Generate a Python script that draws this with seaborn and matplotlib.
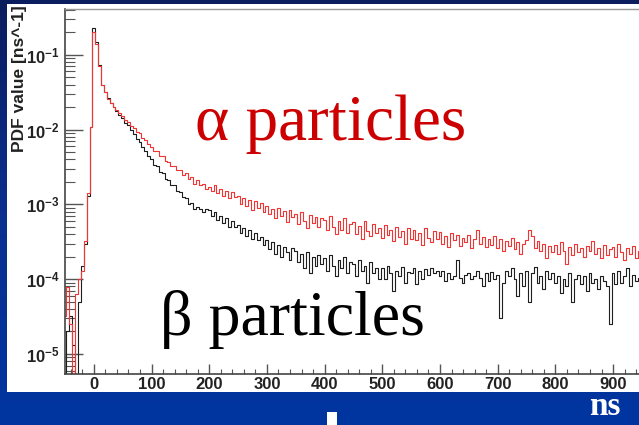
import numpy as np
import pandas as pd
import matplotlib
matplotlib.use("Agg")
import matplotlib.pyplot as plt
import seaborn as sns
from matplotlib.ticker import LogLocator, MultipleLocator, NullFormatter, LogFormatterMathtext
from matplotlib.colors import LinearSegmentedColormap
from matplotlib.patches import Rectangle

# ---------------- data (bin centres in ns, PDF values in ns^-1) ----------------
time_ns = np.arange(-50, 950, 5)

alpha_pdf = [
    3.2e-5, 7.9e-5, 2.5e-5, 2.5e-6, 6.3e-5, 1.0e-4, 1.3e-4, 3.2e-4, 1.4e-3, 1.1e-2,          # -50..-5
    0.20, 0.14, 0.071, 0.040, 0.032, 0.026, 0.0224, 0.020, 0.0182, 0.0166,                  # 0..45
    0.0152, 0.0136, 0.0128, 0.0113, 0.0106, 0.0094, 0.0090, 0.0078, 0.0072, 0.0064,         # 50..95
    5.9e-3, 5.2e-3, 5.1e-3, 4.5e-3, 4.4e-3, 3.8e-3, 3.7e-3, 3.3e-3, 3.3e-3, 2.9e-3,         # 100..145
    2.9e-3, 2.5e-3, 2.6e-3, 2.2e-3, 2.3e-3, 1.9e-3, 2.1e-3, 1.8e-3, 1.9e-3, 1.6e-3,         # 150..195
    1.7e-3, 1.5e-3, 1.8e-3, 1.4e-3, 1.6e-3, 1.3e-3, 1.5e-3, 1.2e-3, 1.45e-3, 1.25e-3,       # 200..245
    1.3e-3, 1.0e-3, 1.2e-3, 9.5e-4, 1.15e-3, 8.5e-4, 1.1e-3, 9.0e-4, 1.05e-3, 8.0e-4,       # 250..295
    9.5e-4, 7.5e-4, 8.8e-4, 6.5e-4, 9.0e-4, 7.0e-4, 8.2e-4, 5.8e-4, 8.5e-4, 6.8e-4,         # 300..345
    7.5e-4, 5.5e-4, 7.8e-4, 6.0e-4, 4.8e-4, 7.2e-4, 5.6e-4, 6.8e-4, 5.0e-4, 6.5e-4,         # 350..395
    6.2e-4, 4.5e-4, 7.0e-4, 5.0e-4, 4.0e-4, 6.0e-4, 4.6e-4, 6.6e-4, 4.2e-4, 5.4e-4,         # 400..445
    5.8e-4, 4.0e-4, 5.2e-4, 3.5e-4, 6.0e-4, 4.4e-4, 3.8e-4, 5.5e-4, 4.1e-4, 4.9e-4,         # 450..495
    3.6e-4, 5.3e-4, 3.9e-4, 4.6e-4, 3.2e-4, 5.0e-4, 3.7e-4, 4.4e-4, 3.0e-4, 4.8e-4,         # 500..545
    3.5e-4, 4.6e-4, 3.3e-4, 4.2e-4, 2.9e-4, 4.9e-4, 3.6e-4, 3.1e-4, 4.4e-4, 3.4e-4,         # 550..595
    4.3e-4, 3.0e-4, 3.8e-4, 2.7e-4, 4.1e-4, 3.3e-4, 3.9e-4, 2.8e-4, 3.6e-4, 3.1e-4,         # 600..645
    3.9e-4, 2.6e-4, 3.5e-4, 4.6e-4, 3.0e-4, 3.7e-4, 2.7e-4, 3.4e-4, 2.9e-4, 3.8e-4,         # 650..695
    2.6e-4, 3.4e-4, 2.4e-4, 3.2e-4, 2.8e-4, 3.6e-4, 2.5e-4, 3.1e-4, 2.2e-4, 3.0e-4,         # 700..745
    3.3e-4, 4.5e-4, 3.8e-4, 2.6e-4, 3.2e-4, 2.4e-4, 3.0e-4, 1.9e-4, 2.8e-4, 2.3e-4,         # 750..795
    2.9e-4, 2.2e-4, 3.1e-4, 2.4e-4, 1.6e-4, 2.7e-4, 2.1e-4, 3.0e-4, 2.3e-4, 2.6e-4,         # 800..845
    2.0e-4, 2.8e-4, 2.4e-4, 3.2e-4, 2.2e-4, 2.6e-4, 1.9e-4, 2.9e-4, 2.1e-4, 2.5e-4,         # 850..895
    2.7e-4, 2.0e-4, 3.0e-4, 2.3e-4, 1.8e-4, 2.6e-4, 2.2e-4, 2.8e-4, 1.9e-4, 2.4e-4,         # 900..945
]

beta_pdf = [
    1.0e-6, 2.0e-5, 3.2e-5, 1.3e-5, 1.0e-6, 5.0e-5, 1.5e-4, 3.0e-4, 1.3e-3, 1.1e-2,          # -50..-5
    0.23, 0.15, 0.072, 0.040, 0.0316, 0.0263, 0.0224, 0.020, 0.0178, 0.0158,                # 0..45
    0.0143, 0.0124, 0.0114, 0.0098, 0.0088, 0.0076, 0.0069, 0.0058, 0.0052, 0.0044,         # 50..95
    4.1e-3, 3.4e-3, 3.3e-3, 2.7e-3, 2.6e-3, 2.2e-3, 2.15e-3, 1.8e-3, 1.8e-3, 1.5e-3,        # 100..145
    1.45e-3, 1.25e-3, 1.2e-3, 1.0e-3, 1.05e-3, 8.6e-4, 9.2e-4, 8.8e-4, 7.8e-4, 8.6e-4,      # 150..195
    8.4e-4, 7.0e-4, 7.8e-4, 6.2e-4, 7.0e-4, 5.6e-4, 6.5e-4, 5.0e-4, 6.0e-4, 5.0e-4,         # 200..245
    5.3e-4, 4.2e-4, 4.8e-4, 3.8e-4, 4.5e-4, 3.4e-4, 4.1e-4, 3.3e-4, 3.7e-4, 2.9e-4,         # 250..295
    3.3e-4, 2.5e-4, 3.1e-4, 2.2e-4, 2.9e-4, 2.0e-4, 2.7e-4, 2.3e-4, 1.8e-4, 2.6e-4,         # 300..345
    2.4e-4, 1.7e-4, 2.2e-4, 1.4e-4, 2.3e-4, 1.2e-4, 2.0e-4, 1.5e-4, 2.1e-4, 1.6e-4,         # 350..395
    1.9e-4, 1.3e-4, 2.1e-4, 1.5e-4, 1.1e-4, 1.8e-4, 1.4e-4, 2.0e-4, 1.2e-4, 1.7e-4,         # 400..445
    1.6e-4, 1.1e-4, 1.8e-4, 1.3e-4, 1.5e-4, 9.0e-5, 1.7e-4, 1.2e-4, 1.4e-4, 1.0e-4,         # 450..495
    1.4e-4, 1.0e-4, 1.5e-4, 1.2e-4, 7.0e-5, 1.3e-4, 1.1e-4, 1.45e-4, 9.0e-5, 1.25e-4,       # 500..545
    1.2e-4, 1.4e-4, 8.5e-5, 1.3e-4, 1.0e-4, 1.35e-4, 1.15e-4, 1.4e-4, 1.2e-4, 1.3e-4,       # 550..595
    1.1e-4, 1.3e-4, 9.5e-5, 1.2e-4, 1.0e-4, 1.1e-4, 1.8e-4, 1.05e-4, 9.0e-5, 1.15e-4,       # 600..645
    1.2e-4, 1.0e-4, 1.1e-4, 1.3e-4, 1.05e-4, 8.0e-5, 1.2e-4, 9.5e-5, 1.25e-4, 1.0e-4,       # 650..695
    1.15e-4, 3.0e-5, 9.0e-5, 1.3e-4, 1.1e-4, 1.4e-4, 1.0e-4, 6.0e-5, 1.2e-4, 8.0e-5,        # 700..745
    1.3e-4, 5.0e-5, 1.2e-4, 1.45e-4, 9.0e-5, 1.1e-4, 7.5e-5, 1.3e-4, 1.0e-4, 1.2e-4,        # 750..795
    9.0e-5, 1.1e-4, 6.5e-5, 1.0e-4, 8.0e-5, 1.2e-4, 5.0e-5, 1.0e-4, 1.15e-4, 8.5e-5,        # 800..845
    1.1e-4, 7.0e-5, 1.2e-4, 9.0e-5, 1.0e-4, 7.5e-5, 1.1e-4, 9.5e-5, 8.0e-5, 2.5e-5,         # 850..895
    1.2e-4, 8.5e-5, 1.3e-4, 9.0e-5, 1.1e-4, 1.4e-4, 8.0e-5, 1.15e-4, 9.5e-5, 1.05e-4,       # 900..945
]

alpha_label = "α particles"
beta_label = "β particles"
y_label = "PDF value [ns^-1]"
unit_label = "ns"

df = pd.DataFrame({"t": np.concatenate([time_ns, time_ns]),
                   "pdf": np.concatenate([beta_pdf, alpha_pdf]),
                   "kind": ["beta"] * len(time_ns) + ["alpha"] * len(time_ns)})

# ---------------- figure ----------------
sns.set_style("ticks")
W, H = 639, 425
fig = plt.figure(figsize=(W / 100, H / 100), dpi=100)

# slide background (blue gradient) + white panel
bg = fig.add_axes([0, 0, 1, 1], zorder=0)
grad = np.linspace(0, 1, 256).reshape(-1, 1)
cmap = LinearSegmentedColormap.from_list("slide", ["#0b1d5e", "#0a2f8f", "#0035a0"])
bg.imshow(grad, aspect="auto", extent=[0, 1, 0, 1], cmap=cmap, origin="upper")
bg.add_patch(Rectangle((7 / W, 33 / H), 1, (392 - 4) / H, transform=bg.transAxes,
                       facecolor="white", edgecolor="none"))
bg.add_patch(Rectangle((327 / W, 0), 10 / W, 13 / H, transform=bg.transAxes,
                       facecolor="white", edgecolor="none"))
bg.set_xlim(0, 1); bg.set_ylim(0, 1)
bg.axis("off")

ax = fig.add_axes([65 / W, 51 / H, 1 - 65 / W, (374 - 9) / H], zorder=1)
ax.set_facecolor("none")

palette = {"beta": "#1e1e1e", "alpha": "#f03535"}
sns.lineplot(data=df, x="t", y="pdf", hue="kind", palette=palette, ax=ax,
             drawstyle="steps-mid", linewidth=0.8, legend=False, estimator=None)

ax.set_yscale("log")
ax.set_xlim(-50, 945)
ax.set_ylim(5.4e-6, 0.41)
ax.set_xlabel("")
ax.set_ylabel("")

ax.xaxis.set_major_locator(MultipleLocator(100))
ax.xaxis.set_minor_locator(MultipleLocator(20))
ax.yaxis.set_major_locator(LogLocator(base=10, numticks=12))
ax.yaxis.set_minor_locator(LogLocator(base=10, subs=np.arange(2, 10), numticks=12))
ax.yaxis.set_major_formatter(LogFormatterMathtext())
ax.yaxis.set_minor_formatter(NullFormatter())

tick_font = "Liberation Sans"
ax.tick_params(axis="y", which="major", direction="in", length=13, width=1.0,
               color="#555555", pad=4, labelsize=12, labelcolor="#222222")
ax.tick_params(axis="y", which="minor", direction="in", length=7, width=0.8, color="#555555")
ax.tick_params(axis="x", which="major", direction="in", length=7, width=1.0,
               color="#555555", pad=2, labelsize=12, labelcolor="#222222")
ax.tick_params(axis="x", which="minor", direction="in", length=3.5, width=0.8, color="#555555")
for lab in ax.get_xticklabels() + ax.get_yticklabels():
    lab.set_fontfamily(tick_font)
    lab.set_fontweight("bold")

for side in ["left", "bottom"]:
    ax.spines[side].set_color("#444444")
    ax.spines[side].set_linewidth(1.2)
ax.spines["top"].set_color("#999999")
ax.spines["top"].set_linewidth(1.0)
ax.spines["right"].set_visible(False)

# texts
fig.text(20 / W, (H - 5) / H, y_label, rotation=90, ha="center", va="top",
         fontsize=12.5, color="#222222", family="Liberation Sans", fontweight="bold")
fig.text(195 / W, (H - 140) / H, alpha_label, color="#cc0000", fontsize=47,
         family="Liberation Serif", va="baseline", ha="left", zorder=3)
fig.text(160 / W, (H - 335) / H, beta_label, color="black", fontsize=46,
         family="Liberation Serif", va="baseline", ha="left", zorder=3)
fig.text(589 / W, (H - 415) / H, unit_label, color="white", fontsize=24,
         family="Liberation Serif", fontweight="bold", va="baseline", ha="left", zorder=3)

fig.savefig("out.png", dpi=100)
